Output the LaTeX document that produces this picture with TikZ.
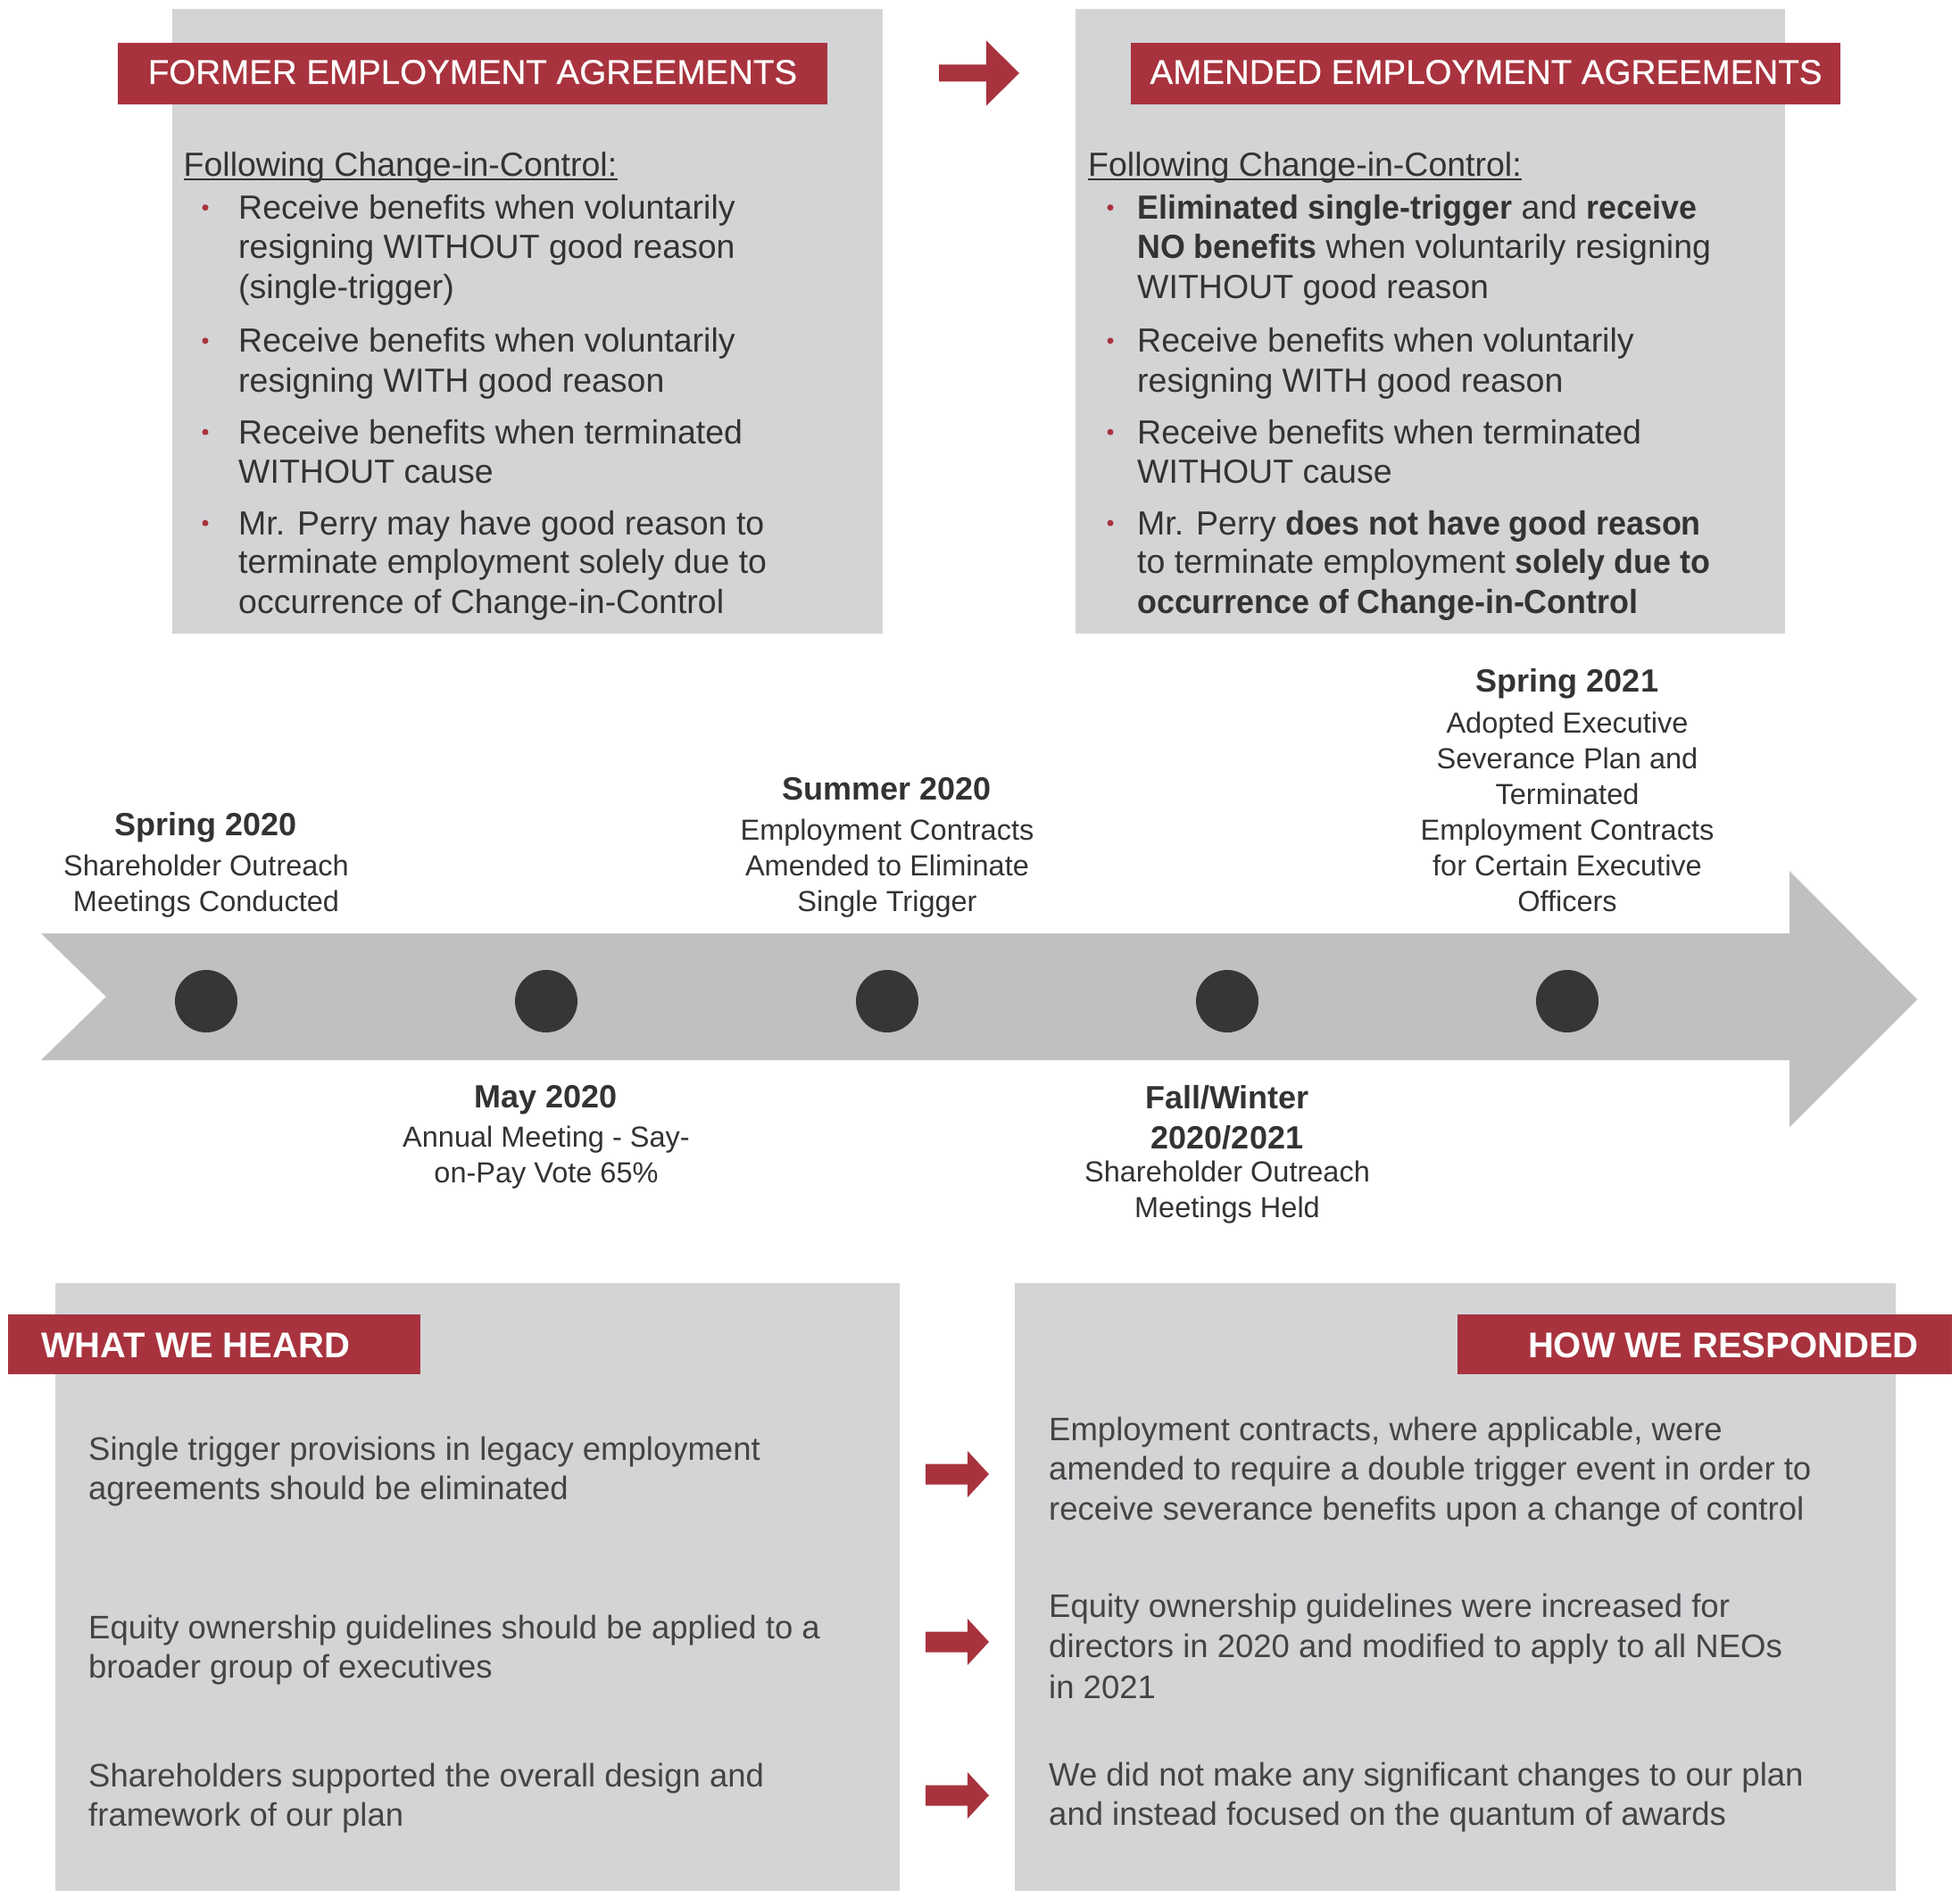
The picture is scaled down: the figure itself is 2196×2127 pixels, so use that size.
\documentclass[tikz,border=0pt]{standalone}
\usepackage{fontspec}
\setmainfont{Liberation Sans}
\newfontfamily\mynarrow{Liberation Sans}[FakeStretch=0.955]
\newfontfamily\mymedium{Liberation Sans}[FakeBold=0.6]
\definecolor{boxgray}{HTML}{D3D4D6}
\definecolor{bandgray}{HTML}{BFC0C2}
\definecolor{accent}{HTML}{A8333E}
\definecolor{ink}{HTML}{333333}
\definecolor{inklight}{HTML}{444444}
\definecolor{dotc}{HTML}{373536}
\newcommand\myFbody{\fontsize{37.5}{45}\selectfont}
\newcommand\myFbanner{\fontsize{38.5}{46}\selectfont\mymedium}
\newcommand\myFtl{\fontsize{32.5}{40}\selectfont}
\newcommand\myFtlb{\fontsize{36}{44}\selectfont\bfseries}
\newcommand\myFbot{\fontsize{36.5}{44}\selectfont}
\newcommand\myFbotb{\fontsize{40}{48}\selectfont\bfseries}
\newcommand\nb[1]{{\mynarrow\bfseries #1}}
\tikzset{
  panel/.style={fill=boxgray,draw=none},
  banner/.style={fill=accent,draw=none},
  bantxt/.style={inner sep=0,text=white,font=\myFbanner},
  bottitle/.style={inner sep=0,text=white,font=\myFbotb},
  tl/.style={inner sep=0,anchor=base west,text=ink,font=\myFbody},
  bl/.style={inner sep=0,anchor=base west,text=inklight,font=\myFbot},
  tc/.style={inner sep=0,anchor=base,text=ink,font=\myFtl},
  tcb/.style={inner sep=0,anchor=base,text=ink,font=\myFtlb},
  bul/.style={circle,fill=accent,inner sep=0,minimum size=7pt},
  tdot/.style={circle,fill=dotc,inner sep=0,minimum size=70pt},
  bigarrow/.pic={\fill[accent] (0,-9.5) -- (53,-9.5) -- (53,-36.5) -- (90,0) -- (53,36.5) -- (53,9.5) -- (0,9.5) -- cycle;},
  smallarrow/.pic={\fill[accent] (0,-11.5) -- (47,-11.5) -- (47,-26) -- (71,0) -- (47,26) -- (47,11.5) -- (0,11.5) -- cycle;}
}
\begin{document}
\begin{tikzpicture}[x=1pt,y=-1pt]
\fill[white] (0,0) rectangle (2196,2127);
\useasboundingbox (0,0) rectangle (2196,2127);

% ---------- top panels ----------
\fill[panel] (193,10) rectangle (989,710);
\fill[panel] (1205,10) rectangle (2000,710);
\fill[banner] (132,48) rectangle (927,117);
\fill[banner] (1267,48) rectangle (2062,117);
\node[bantxt,anchor=base] (tlt) at (529.5,94) {FORMER EMPLOYMENT AGREEMENTS};
\node[bantxt,anchor=base] (trt) at (1665,94) {AMENDED EMPLOYMENT AGREEMENTS};
\pic at (1052,82) {bigarrow};

% left list
\node[tl] (lf) at (205.5,197.4) {Following Change-in-Control:};
\draw[ink,line width=1.8pt] ([yshift=-3.5pt]lf.base west) -- ([yshift=-3.5pt]lf.base east);
\node[bul] (lb1) at (230,232.6) {};
\node[bul] (lb2) at (230,381.9) {};
\node[bul] (lb3) at (230,484.2) {};
\node[bul] (lb4) at (230,586.2) {};
\node[tl] (l1a) at (267,245.6) {Receive benefits when voluntarily};
\node[tl] (l1b) at (267,289.3) {resigning WITHOUT good reason};
\node[tl] (l1c) at (267,334.2) {(single-trigger)};
\node[tl] (l2a) at (267,394.9) {Receive benefits when voluntarily};
\node[tl] (l2b) at (267,439.9) {resigning WITH good reason};
\node[tl] (l3a) at (267,497.2) {Receive benefits when terminated};
\node[tl] (l3b) at (267,541.8) {WITHOUT cause};
\node[tl] (l4a) at (267,599.2) {Mr. Perry may have good reason to};
\node[tl] (l4b) at (267,642.8) {terminate employment solely due to};
\node[tl] (l4c) at (267,687.3) {occurrence of Change-in-Control};

% right list
\node[tl] (rf) at (1219,197.4) {Following Change-in-Control:};
\draw[ink,line width=1.8pt] ([yshift=-3.5pt]rf.base west) -- ([yshift=-3.5pt]rf.base east);
\node[bul] (rb1) at (1244,232.6) {};
\node[bul] (rb2) at (1244,381.9) {};
\node[bul] (rb3) at (1244,484.2) {};
\node[bul] (rb4) at (1244,586.2) {};
\node[tl] (r1a) at (1274,245.6) {\nb{Eliminated single-trigger} and \nb{receive}};
\node[tl] (r1b) at (1274,289.3) {\nb{NO benefits} when voluntarily resigning};
\node[tl] (r1c) at (1274,334.2) {WITHOUT good reason};
\node[tl] (r2a) at (1274,394.9) {Receive benefits when voluntarily};
\node[tl] (r2b) at (1274,439.9) {resigning WITH good reason};
\node[tl] (r3a) at (1274,497.2) {Receive benefits when terminated};
\node[tl] (r3b) at (1274,541.8) {WITHOUT cause};
\node[tl] (r4a) at (1274,599.2) {Mr. Perry \nb{does not have good reason}};
\node[tl] (r4b) at (1274,642.8) {to terminate employment \nb{solely due to}};
\node[tl] (r4c) at (1274,687.3) {\nb{occurrence of Change-in-Control}};

% ---------- timeline ----------
\fill[bandgray] (46,1046) -- (2005,1046) -- (2005,976) -- (2148,1120) -- (2005,1263) -- (2005,1188) -- (46,1188) -- (119,1117) -- cycle;
\node[tdot] (d1) at (231,1122) {};
\node[tdot] (d2) at (612,1122) {};
\node[tdot] (d3) at (994,1122) {};
\node[tdot] (d4) at (1375,1122) {};
\node[tdot] (d5) at (1756,1122) {};

\node[tcb] (s20) at (231,936) {Spring 2020};
\node[tc] (s20a) at (231,981) {Shareholder Outreach};
\node[tc] (s20b) at (231,1021) {Meetings Conducted};

\node[tcb] (su20) at (994,896) {Summer 2020};
\node[tc] (su20a) at (994,941) {Employment Contracts};
\node[tc] (su20b) at (994,981) {Amended to Eliminate};
\node[tc] (su20c) at (994,1021) {Single Trigger};

\node[tcb] (s21) at (1756,775) {Spring 2021};
\node[tc] (s21a) at (1756,821) {Adopted Executive};
\node[tc] (s21b) at (1756,861) {Severance Plan and};
\node[tc] (s21c) at (1756,901) {Terminated};
\node[tc] (s21d) at (1756,941) {Employment Contracts};
\node[tc] (s21e) at (1756,981) {for Certain Executive};
\node[tc] (s21f) at (1756,1021) {Officers};

\node[tcb] (m20) at (612,1241) {May 2020};
\node[tc] (m20a) at (612,1285) {Annual Meeting - Say-};
\node[tc] (m20b) at (612,1325) {on-Pay Vote 65\%};

\node[tcb] (fw) at (1375,1242) {Fall/Winter};
\node[tcb] (fwy) at (1375,1287) {2020/2021};
\node[tc] (fwa) at (1375,1324) {Shareholder Outreach};
\node[tc] (fwb) at (1375,1364) {Meetings Held};

% ---------- bottom panels ----------
\fill[panel] (62,1438) rectangle (1008,2119);
\fill[panel] (1137,1438) rectangle (2124,2119);
\fill[banner] (9,1473) rectangle (471,1540);
\fill[banner] (1633,1473) rectangle (2187,1540);
\node[bottitle,anchor=base west] (wwh) at (46,1521.5) {WHAT WE HEARD};
\node[bottitle,anchor=base east] (hwr) at (2150,1521.5) {HOW WE RESPONDED};

\node[bl] (h1a) at (99,1636.4) {Single trigger provisions in legacy employment};
\node[bl] (h1b) at (99,1680.5) {agreements should be eliminated};
\node[bl] (h2a) at (99,1836.7) {Equity ownership guidelines should be applied to a};
\node[bl] (h2b) at (99,1880.8) {broader group of executives};
\node[bl] (h3a) at (99,2002.7) {Shareholders supported the overall design and};
\node[bl] (h3b) at (99,2046.7) {framework of our plan};

\node[bl] (p1a) at (1175,1614) {Employment contracts, where applicable, were};
\node[bl] (p1b) at (1175,1658) {amended to require a double trigger event in order to};
\node[bl] (p1c) at (1175,1703.7) {receive severance benefits upon a change of control};
\node[bl] (p2a) at (1175,1812.6) {Equity ownership guidelines were increased for};
\node[bl] (p2b) at (1175,1857.6) {directors in 2020 and modified to apply to all NEOs};
\node[bl] (p2c) at (1175,1903) {in 2021};
\node[bl] (p3a) at (1175,2001) {We did not make any significant changes to our plan};
\node[bl] (p3b) at (1175,2045.8) {and instead focused on the quantum of awards};

\pic at (1037,1652) {smallarrow};
\pic at (1037,1840) {smallarrow};
\pic at (1037,2012) {smallarrow};
\end{tikzpicture}
\end{document}
